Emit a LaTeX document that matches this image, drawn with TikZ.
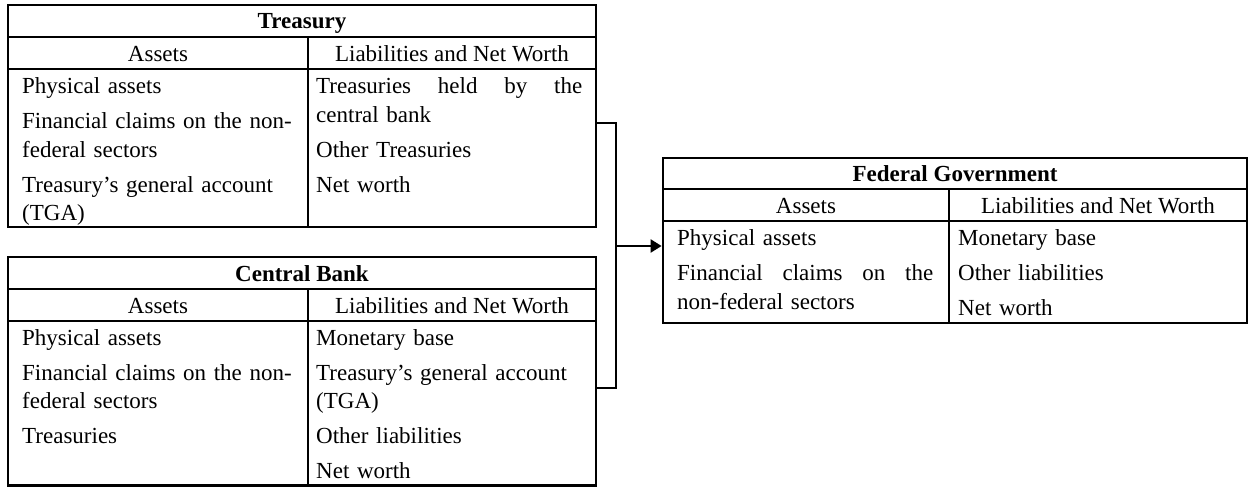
\documentclass[tikz,border=0pt]{standalone}
\usepackage{fontspec}
\setmainfont{Liberation Serif}
\usetikzlibrary{arrows.meta}
\begin{document}
\begin{tikzpicture}[x=1pt,y=-1pt,
  frame/.style={draw, line width=2.8pt, rectangle, inner sep=0pt},
  rule/.style={line width=2.8pt},
  conn/.style={line width=2.2pt},
  txt/.style={font=\fontsize{23}{28.5}\selectfont, inner sep=0pt},
  cell/.style={txt, anchor=base west, align=left},
  title/.style={txt, anchor=base, font=\fontsize{23}{28.5}\selectfont\bfseries},
  head/.style={txt, anchor=base}]
\useasboundingbox (0,0) rectangle (1249,487);

% ---------- Treasury ----------
\node[frame, minimum width=588pt, minimum height=222pt] (treas) at (302,116) {};
\draw[rule] (8,37) -- (596,37);
\draw[rule] (8,69) -- (596,69);
\draw[rule] (308,37) -- (308,227);
\node[title] (treasT) at (302,29) {Treasury};
\node[head] (treasA) at (158,61) {Assets};
\node[head] (treasL) at (452,61) {Liabilities and Net Worth};
\node[cell, text width=276pt] (treasAC) at (22,93.5)
  {Physical assets\\[6.5pt]Financial claims on the non-\\federal sectors\\[6.5pt]Treasury’s general account\\(TGA)};
\node[cell, text width=266pt] (treasLC) at (316,93.5)
  {Treasuries\hfill held\hfill by\hfill the\\central bank\\[6.5pt]Other Treasuries\\[6.5pt]Net worth};

% ---------- Central Bank ----------
\node[frame, minimum width=588pt, minimum height=228.5pt] (cb) at (302,371.25) {};
\draw[rule] (8,289) -- (596,289);
\draw[rule] (8,321) -- (596,321);
\draw[rule] (308,289) -- (308,485.5);
\node[title] (cbT) at (302,281) {Central Bank};
\node[head] (cbA) at (158,313) {Assets};
\node[head] (cbL) at (452,313) {Liabilities and Net Worth};
\node[cell, text width=276pt] (cbAC) at (22,345)
  {Physical assets\\[6.5pt]Financial claims on the non-\\federal sectors\\[6.5pt]Treasuries};
\node[cell, text width=266pt] (cbLC) at (316,345)
  {Monetary base\\[6.5pt]Treasury’s general account\\(TGA)\\[6.5pt]Other liabilities\\[6.5pt]Net worth};

% ---------- Federal Government ----------
\node[frame, minimum width=584pt, minimum height=165pt] (fed) at (955,240.5) {};
\draw[rule] (663,189) -- (1247,189);
\draw[rule] (663,221) -- (1247,221);
\draw[rule] (949,189) -- (949,323);
\node[title] (fedT) at (955,181) {Federal Government};
\node[head] (fedA) at (806,213) {Assets};
\node[head] (fedL) at (1098,213) {Liabilities and Net Worth};
\node[cell, text width=256pt] (fedAC) at (677,245.5)
  {Physical assets\\[6.5pt]Financial\hfill claims\hfill on\hfill the\\non-federal sectors};
\node[cell, text width=275pt] (fedLC) at (958,245.5)
  {Monetary base\\[6.5pt]Other liabilities\\[6.5pt]Net worth};

% ---------- connectors ----------
\coordinate (bus) at (616,246);
\draw[conn] ([yshift=-7pt]treas.east) -| (bus) |- ([yshift=-16.75pt]cb.east);
\draw[conn, -{Triangle[length=11pt, width=13pt]}] (bus) -- (bus -| fed.west);
\end{tikzpicture}
\end{document}
